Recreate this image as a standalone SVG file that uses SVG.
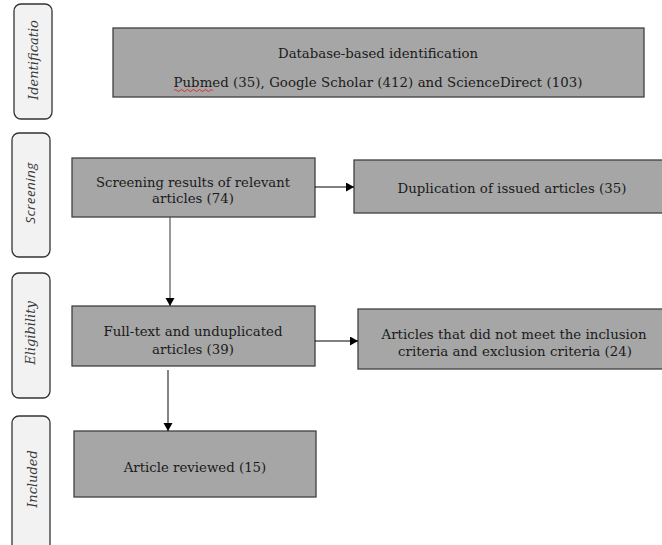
<svg xmlns="http://www.w3.org/2000/svg" width="662" height="545" viewBox="0 0 662 545">
<style>
.pill{fill:#f2f2f2;stroke:#333333;stroke-width:1.3}
.box{fill:#a6a6a6;stroke:#404040;stroke-width:1.3}
.t{font-family:"DejaVu Serif","Liberation Serif",serif;font-size:13.3px;fill:#1a1a1a;text-anchor:middle}
.lab{font-family:"DejaVu Serif","Liberation Serif",serif;font-style:italic;font-size:13px;fill:#3a3a3a;text-anchor:middle}
.labs{font-family:"Open Sans","DejaVu Sans",sans-serif;font-style:italic;font-size:13.5px;letter-spacing:0.4px;fill:#3a3a3a;text-anchor:middle}
.conn{fill:none;stroke-width:1.2}
</style>
<defs>
<marker id="ah" markerUnits="userSpaceOnUse" markerWidth="10" markerHeight="10" refX="8" refY="4.5" orient="auto">
<path d="M0,0 L8,4.5 L0,9 z" fill="#000"/>
</marker>
</defs>
<rect width="662" height="545" fill="#ffffff"/>

<g id="stage-identification">
<rect class="pill" x="14" y="4" width="38" height="115" rx="7"/>
<text class="lab" transform="translate(38,60) rotate(-90)">Identificatio</text>
</g>
<g id="stage-screening">
<rect class="pill" x="12" y="133" width="38" height="124" rx="7"/>
<text class="labs" transform="translate(35,193) rotate(-90)">Screening</text>
</g>
<g id="stage-eligibility">
<rect class="pill" x="12" y="273" width="38" height="125" rx="7"/>
<text class="lab" transform="translate(35,333) rotate(-90)">Eligibility</text>
</g>
<g id="stage-included">
<rect class="pill" x="12" y="416" width="38" height="140" rx="7"/>
<text class="lab" transform="translate(37,479) rotate(-90)">Included</text>
</g>

<g id="node-identification">
<rect class="box" x="113" y="28" width="531" height="69"/>
<text class="t" x="378" y="58" textLength="200" lengthAdjust="spacingAndGlyphs">Database-based identification</text>
<text class="t" x="378" y="87" textLength="409" lengthAdjust="spacing">Pubmed (35), Google Scholar (412) and ScienceDirect (103)</text>
<path d="M174,90.5 q1.5,-2 3,0 t3,0 t3,0 t3,0 t3,0 t3,0 t3,0 t3,0 t3,0 t3,0 t3,0 t3,0 t3,0" fill="none" stroke="#e02020" stroke-width="0.9"/>
</g>

<g id="node-screening">
<rect class="box" x="72" y="158" width="243" height="59"/>
<text class="t" x="193" y="187" textLength="194" lengthAdjust="spacingAndGlyphs">Screening results of relevant</text>
<text class="t" x="193" y="203">articles (74)</text>
</g>

<g id="node-duplication">
<rect class="box" x="354" y="160" width="316" height="53"/>
<text class="t" x="512" y="193" textLength="229" lengthAdjust="spacing">Duplication of issued articles (35)</text>
</g>

<g id="node-fulltext">
<rect class="box" x="72" y="306" width="243" height="60"/>
<text class="t" x="193" y="336" textLength="179" lengthAdjust="spacing">Full-text and unduplicated</text>
<text class="t" x="193" y="354">articles (39)</text>
</g>

<g id="node-excluded">
<rect class="box" x="358" y="309" width="312" height="60"/>
<text class="t" x="514" y="339" textLength="265" lengthAdjust="spacingAndGlyphs">Articles that did not meet the inclusion</text>
<text class="t" x="515" y="356" textLength="234" lengthAdjust="spacing">criteria and exclusion criteria (24)</text>
</g>

<g id="node-reviewed">
<rect class="box" x="74" y="431" width="242" height="66"/>
<text class="t" x="195" y="472">Article reviewed (15)</text>
</g>

<g id="connectors">
<path class="conn" d="M170,217 V306" stroke="#555555" marker-end="url(#ah)"/>
<path class="conn" d="M168,370 V431" stroke="#333333" marker-end="url(#ah)"/>
<path class="conn" d="M315,187 H354" stroke="#000000" marker-end="url(#ah)"/>
<path class="conn" d="M315,341 H358" stroke="#000000" marker-end="url(#ah)"/>
</g>
</svg>
